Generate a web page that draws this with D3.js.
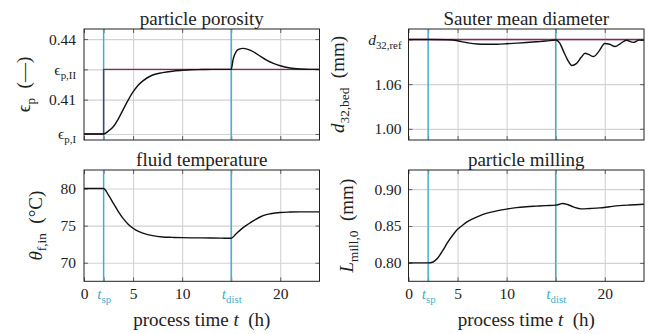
<!DOCTYPE html>
<html><head><meta charset="utf-8">
<script src="https://cdn.jsdelivr.net/npm/d3@7/dist/d3.min.js"></script>
<style>body{margin:0;background:#fff} svg{display:block} svg text, svg tspan{font-family:"Liberation Serif", serif;}</style>
</head><body>
<svg id="c" width="653" height="334"></svg>
<script>
// ---------- data ----------
const timeDomain = [0, 24];
const timeTicks = [0, 2, 5, 10, 15, 20];
const timeTickLabels = ["0", "*t*_{sp}", "5", "10", "*t*_{dist}", "20"];
const markerTimes = [2, 15]; // t_sp, t_dist

const porosityTime = [0, 2, 2.5, 3, 3.5, 4, 4.5, 5, 5.5, 6, 7, 8, 9, 10, 11, 12, 13, 14, 15, 15.2, 15.5, 15.8, 16.2, 16.7, 17.3, 18, 18.6, 19.3, 20, 21, 22, 23, 24];
const porosity = [0.393, 0.393, 0.3945, 0.3967, 0.4005, 0.4052, 0.4098, 0.4138, 0.4170, 0.4193, 0.4222, 0.4234, 0.4241, 0.4245, 0.4248, 0.4249, 0.4250, 0.4250, 0.4250, 0.4300, 0.4338, 0.4350, 0.4354, 0.4349, 0.4336, 0.4314, 0.4296, 0.4280, 0.4268, 0.4257, 0.4252, 0.4250, 0.4250];
const porosityRefTime = [0, 2, 2, 24];
const porosityRef = [0.393, 0.393, 0.425, 0.425];
const porosityTicks = [0.393, 0.41, 0.425, 0.44];
const porosityTickLabels = ["ϵ_{p,I}", "0.41", "ϵ_{p,II}", "0.44"];

const sauterTime = [0, 2, 4, 5, 6, 7, 8, 9, 10, 11, 12, 13, 14, 15, 15.4, 15.8, 16.2, 16.65, 17.1, 17.6, 18.0, 18.4, 18.85, 19.4, 20.0, 20.5, 21.05, 21.6, 22.2, 22.9, 23.5, 24];
const sauter = [1.12, 1.12, 1.1195, 1.1182, 1.1155, 1.1138, 1.1135, 1.1136, 1.1142, 1.1150, 1.1158, 1.1168, 1.1178, 1.1193, 1.1155, 1.1040, 1.0930, 1.0850, 1.0875, 1.0960, 1.1015, 1.0995, 1.0970, 1.1040, 1.1145, 1.1135, 1.1105, 1.1145, 1.1188, 1.1160, 1.1190, 1.1188];
const sauterRefTime = [0, 24];
const sauterRef = [1.12, 1.12];
const sauterTicks = [1.00, 1.06, 1.12];
const sauterTickLabels = ["1.00", "1.06", "*d*_{32,ref}"];

const temperatureTime = [0, 2, 2.5, 3, 3.5, 4, 4.5, 5, 5.5, 6, 7, 8, 9, 10, 12, 14, 15, 15.5, 16, 16.5, 17, 17.5, 18, 18.5, 19, 20, 21, 22, 24];
const temperature = [80, 80, 79.1, 78.0, 76.9, 75.95, 75.2, 74.65, 74.25, 74.0, 73.65, 73.48, 73.42, 73.38, 73.35, 73.32, 73.3, 73.9, 74.5, 75.0, 75.45, 75.85, 76.2, 76.45, 76.6, 76.78, 76.83, 76.85, 76.85];
const temperatureTicks = [70, 75, 80];
const temperatureTickLabels = ["70", "75", "80"];

const millingTime = [0, 2, 2.5, 3, 3.5, 4, 4.5, 5, 5.5, 6, 7, 8, 9, 10, 11, 12, 13, 14, 15, 15.4, 15.7, 16.2, 16.8, 17.6, 18.5, 19.5, 20.5, 21.5, 22.5, 24];
const milling = [0.80, 0.80, 0.8012, 0.807, 0.817, 0.828, 0.8375, 0.8455, 0.851, 0.856, 0.8625, 0.8675, 0.8705, 0.873, 0.875, 0.8762, 0.877, 0.8777, 0.8783, 0.8795, 0.8806, 0.8792, 0.876, 0.8733, 0.8738, 0.8746, 0.8762, 0.8776, 0.8785, 0.8795];
const millingTicks = [0.80, 0.85, 0.90];
const millingTickLabels = ["0.80", "0.85", "0.90"];

// ---------- style ----------
const FONT = "Liberation Serif";
const CYAN = "#46adc9";
const PURPLE = "#84265f";
const GRID = "#d2d2d2";
const INK = "#222";
const TICKFS = 15.5, LABELFS = 19;

const svg = d3.select("#c");

function rich(textSel, str, fs) {
  textSel.text(null);
  const re = /(\*[^*]+\*)|(_\{[^}]+\})|([^*_]+)/g;
  const d = Math.round(fs * 0.24 * 10) / 10;
  let m, shift = 0;
  while ((m = re.exec(str)) !== null) {
    const t = textSel.append("tspan");
    if (m[1]) {
      t.text(m[1].slice(1, -1)).attr("font-style", "italic");
      if (shift) { t.attr("dy", -shift); shift = 0; }
    } else if (m[2]) {
      t.text(m[2].slice(2, -1)).attr("font-size", "70%").attr("dy", d);
      shift = d;
    } else {
      t.text(m[3]);
      if (shift) { t.attr("dy", -shift); shift = 0; }
    }
  }
}

let clipId = 0;
function panel(cfg) {
  const g = svg.append("g");
  const x = d3.scaleLinear().domain(timeDomain).range([cfg.x0, cfg.x1]);
  const y = d3.scaleLinear().domain(cfg.yDomain).range([cfg.y1, cfg.y0]);
  const w = cfg.x1 - cfg.x0, h = cfg.y1 - cfg.y0;

  // grid
  g.append("g").attr("transform", `translate(0,${cfg.y1})`)
    .call(d3.axisBottom(x).tickValues(timeTicks.filter(t => t > 0 && t !== 2)).tickSize(-h).tickFormat(""))
    .call(s => { s.select(".domain").remove(); s.selectAll("line").attr("stroke", GRID).attr("stroke-width", 1.1); });
  g.append("g").attr("transform", `translate(${cfg.x0},0)`)
    .call(d3.axisLeft(y).tickValues(cfg.yTicks).tickSize(-w).tickFormat(""))
    .call(s => { s.select(".domain").remove(); s.selectAll("line").attr("stroke", GRID).attr("stroke-width", 1.1); });

  // inner tick marks (all four sides)
  const tk = s => { s.select(".domain").remove(); s.selectAll("line").attr("stroke", "#555").attr("stroke-width", 0.9); };
  g.append("g").attr("transform", `translate(0,${cfg.y1})`)
    .call(d3.axisBottom(x).tickValues(timeTicks).tickSize(-4).tickFormat("")).call(tk);
  g.append("g").attr("transform", `translate(0,${cfg.y0})`)
    .call(d3.axisTop(x).tickValues(timeTicks).tickSize(-4).tickFormat("")).call(tk);
  g.append("g").attr("transform", `translate(${cfg.x0},0)`)
    .call(d3.axisLeft(y).tickValues(cfg.yTicks).tickSize(-4).tickFormat("")).call(tk);
  g.append("g").attr("transform", `translate(${cfg.x1},0)`)
    .call(d3.axisRight(y).tickValues(cfg.yTicks).tickSize(-4).tickFormat("")).call(tk);

  // clip
  const id = "clip" + (clipId++);
  g.append("clipPath").attr("id", id).append("rect")
    .attr("x", cfg.x0).attr("y", cfg.y0).attr("width", w).attr("height", h);
  const plot = g.append("g").attr("clip-path", `url(#${id})`);

  // marker lines
  plot.selectAll("line.marker").data(markerTimes).join("line")
    .attr("x1", d => x(d)).attr("x2", d => x(d))
    .attr("y1", cfg.y0).attr("y2", cfg.y1)
    .attr("stroke", CYAN).attr("stroke-width", 1.5);

  // reference
  if (cfg.refT) {
    const ref = d3.line().x(d => x(d[0])).y(d => y(d[1]));
    plot.append("path").datum(d3.zip(cfg.refT, cfg.refV))
      .attr("d", ref).attr("fill", "none").attr("stroke", PURPLE).attr("stroke-width", 1.4);
  }
  // main curve
  const line = d3.line().x(d => x(d[0])).y(d => y(d[1])).curve(d3.curveMonotoneX);
  plot.append("path").datum(d3.zip(cfg.t, cfg.v))
    .attr("d", line).attr("fill", "none").attr("stroke", "#111").attr("stroke-width", 1.4);

  // frame
  g.append("rect").attr("x", cfg.x0).attr("y", cfg.y0).attr("width", w).attr("height", h)
    .attr("fill", "none").attr("stroke", INK).attr("stroke-width", 1);

  // y tick labels
  const yl = g.append("g").attr("transform", `translate(${cfg.x0},0)`)
    .call(d3.axisLeft(y).tickValues(cfg.yTicks).tickSize(0).tickPadding(cfg.yPad)
      .tickFormat((d, i) => cfg.yLabels[i]));
  yl.attr("font-family", FONT).attr("font-size", TICKFS);
  yl.select(".domain").remove();
  yl.selectAll("text").attr("fill", INK).style("font-family", FONT).style("font-size", TICKFS + "px")
    .each(function (d, i) { rich(d3.select(this), cfg.yLabels[i], TICKFS); });

  // x tick labels
  if (cfg.xLabels) {
    const xl = g.append("g").attr("transform", `translate(0,${cfg.y1})`)
      .call(d3.axisBottom(x).tickValues(timeTicks).tickSize(0).tickPadding(7)
        .tickFormat((d, i) => timeTickLabels[i]));
    xl.attr("font-family", FONT).attr("font-size", TICKFS);
    xl.select(".domain").remove();
    xl.selectAll("text").style("font-family", FONT).style("font-size", TICKFS + "px")
      .attr("fill", d => markerTimes.includes(d) ? CYAN : INK)
      .each(function (d, i) { rich(d3.select(this), timeTickLabels[i], TICKFS); });
    g.append("text").attr("x", (cfg.x0 + cfg.x1) / 2).attr("y", 326)
      .attr("text-anchor", "middle").attr("font-family", FONT).attr("font-size", LABELFS).attr("fill", INK)
      .call(s => rich(s, "process time *t*\u00a0\u00a0(h)", LABELFS));
  }

  // title
  g.append("text").attr("x", (cfg.x0 + cfg.x1) / 2).attr("y", cfg.y0 - 4)
    .attr("text-anchor", "middle").attr("font-family", FONT).attr("font-size", LABELFS).attr("fill", INK).text(cfg.title);

  // y axis label
  g.append("text").attr("transform", `translate(${cfg.ylx},${(cfg.y0 + cfg.y1) / 2}) rotate(-90)`)
    .attr("text-anchor", "middle").attr("font-family", FONT).attr("font-size", LABELFS).attr("fill", INK)
    .call(s => rich(s, cfg.ylabel, LABELFS));
}

panel({ x0: 84, x1: 319.5, y0: 29, y1: 140, yDomain: [0.390, 0.445],
  yTicks: porosityTicks, yLabels: porosityTickLabels, yPad: 8,
  t: porosityTime, v: porosity, refT: porosityRefTime, refV: porosityRef,
  title: "particle porosity", ylabel: "ϵ_{p}\u00a0\u00a0(—)", ylx: 30 });
panel({ x0: 408.5, x1: 644, y0: 29, y1: 140, yDomain: [0.985, 1.134],
  yTicks: sauterTicks, yLabels: sauterTickLabels, yPad: 7,
  t: sauterTime, v: sauter, refT: sauterRefTime, refV: sauterRef,
  title: "Sauter mean diameter", ylabel: "*d*_{32,bed}\u00a0\u00a0(mm)", ylx: 344 });
panel({ x0: 84, x1: 319.5, y0: 170, y1: 281.3, yDomain: [67.5, 82.5],
  yTicks: temperatureTicks, yLabels: temperatureTickLabels, yPad: 8,
  t: temperatureTime, v: temperature, xLabels: true,
  title: "fluid temperature", ylabel: "*θ*_{f,in}\u00a0\u00a0(°C)", ylx: 41.5 });
panel({ x0: 408.5, x1: 644, y0: 170, y1: 281.3, yDomain: [0.775, 0.926],
  yTicks: millingTicks, yLabels: millingTickLabels, yPad: 7,
  t: millingTime, v: milling, xLabels: true,
  title: "particle milling", ylabel: "*L*_{mill,0}\u00a0\u00a0(mm)", ylx: 353 });
</script>
</body></html>
